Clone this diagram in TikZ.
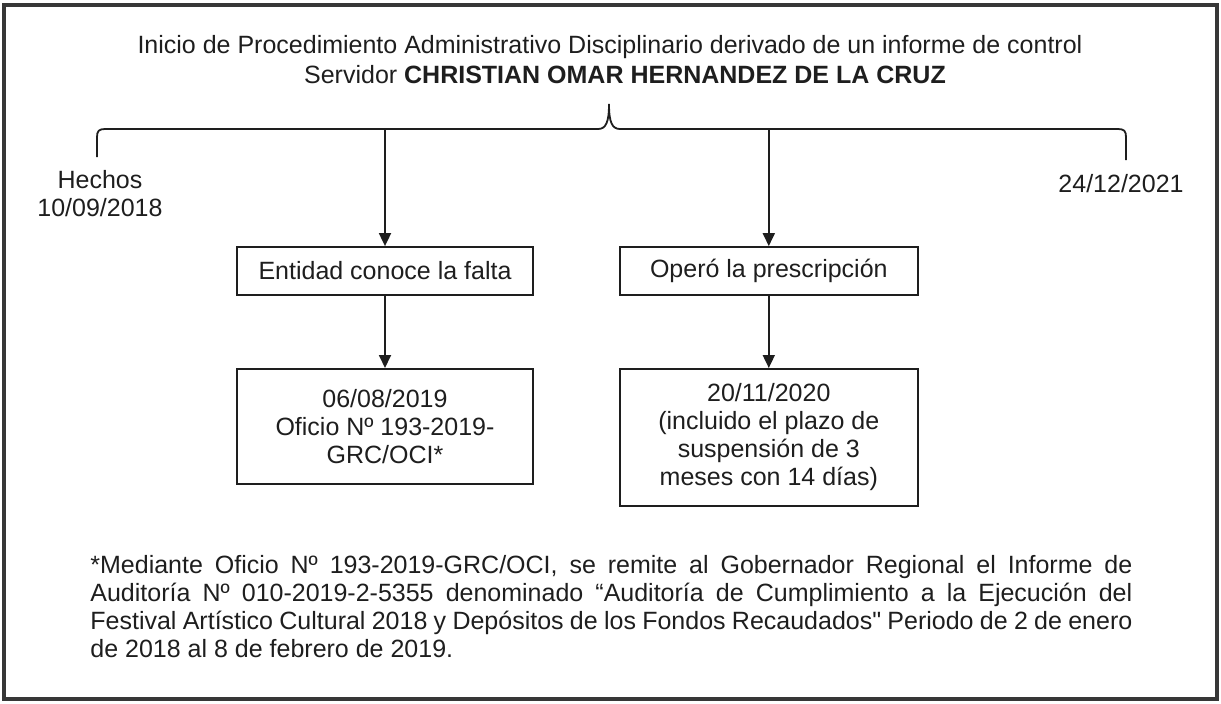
\documentclass[tikz,border=0pt]{standalone}
\usepackage{fontspec}
\setmainfont{Liberation Sans}
\usepackage{tikz}
\usetikzlibrary{arrows.meta,positioning}
\definecolor{MarcoGris}{RGB}{55,55,55}
\definecolor{TextoOscuro}{RGB}{30,30,30}

\tikzset{
  texto/.style={font=\fontsize{12.5}{14}\selectfont, text=TextoOscuro},
  caja/.style={draw=TextoOscuro, line width=0.9pt, align=center, inner sep=0pt, minimum width=148pt},
  flecha/.style={draw=TextoOscuro, line width=0.9pt, -{Triangle[width=6pt,length=6.5pt]}}
}

\begin{document}
\begin{tikzpicture}[x=0.5pt, y=-0.5pt]
\useasboundingbox (0,0) rectangle (1221,703);
\draw[MarcoGris, line width=1.6pt] (4,5) rectangle (1217,699);

% encabezado
\node[texto] (titulo) at (610,47) {Inicio de Procedimiento Administrativo Disciplinario derivado de un informe de control};
\node[texto] (servidor) at (625,75) {Servidor \textbf{CHRISTIAN OMAR HERNANDEZ DE LA CRUZ}};

% llave
\draw[TextoOscuro, line width=0.9pt]
  (97,157) -- (97,137) .. controls (97,131) and (99,129) .. (105,129)
  -- (598,129) .. controls (606,129) and (609,122) .. (609,104)
  .. controls (609,122) and (612,129) .. (620,129)
  -- (1118,129) .. controls (1124,129) and (1126,131) .. (1126,137) -- (1126,160);
\coordinate (llaveA) at (385,129);
\coordinate (llaveB) at (766,129);

\node[texto, align=center] (hechos) at (100,194) {Hechos\\10/09/2018};
\node[texto] (fin) at (1121,184) {24/12/2021};

% cajas
\node[caja, texto, minimum height=24pt] (entidad) at (385,271) {Entidad conoce la falta};
\node[caja, texto, minimum width=149pt, minimum height=24pt, right=42.5pt of entidad] (opero) {Operó la prescripción};
\node[caja, texto, minimum height=57.5pt, anchor=north] (oficio) at (385,368)
  {06/08/2019\\Oficio Nº 193-2019-\\GRC/OCI*};
\node[caja, texto, minimum width=149pt, minimum height=68.5pt, anchor=north] (fecha) at (opero.center |- oficio.north)
  {20/11/2020\\(incluido el plazo de\\suspensión de 3\\meses con 14 días)};

\draw[flecha] (llaveA) -- (entidad);
\draw[flecha] (llaveB -| opero) -- (opero);
\draw[flecha] (entidad) -- (oficio);
\draw[flecha] (opero) -- (fecha);

% nota
\node[texto, text width=521pt, align=justify, inner sep=0pt, anchor=north west] (nota) at (90,555)
  {\hyphenpenalty=10000\exhyphenpenalty=10000
  *Mediante Oficio Nº 193-2019-GRC/OCI, se remite al Gobernador Regional el Informe de\linebreak
  Auditoría Nº 010-2019-2-5355 denominado “Auditoría de Cumplimiento a la Ejecución del\linebreak
  Festival Artístico Cultural 2018 y Depósitos de los Fondos Recaudados{\addfontfeature{Ligatures=TeXOff}"} Periodo de 2 de enero\linebreak
  de 2018 al 8 de febrero de 2019.};
\end{tikzpicture}
\end{document}
